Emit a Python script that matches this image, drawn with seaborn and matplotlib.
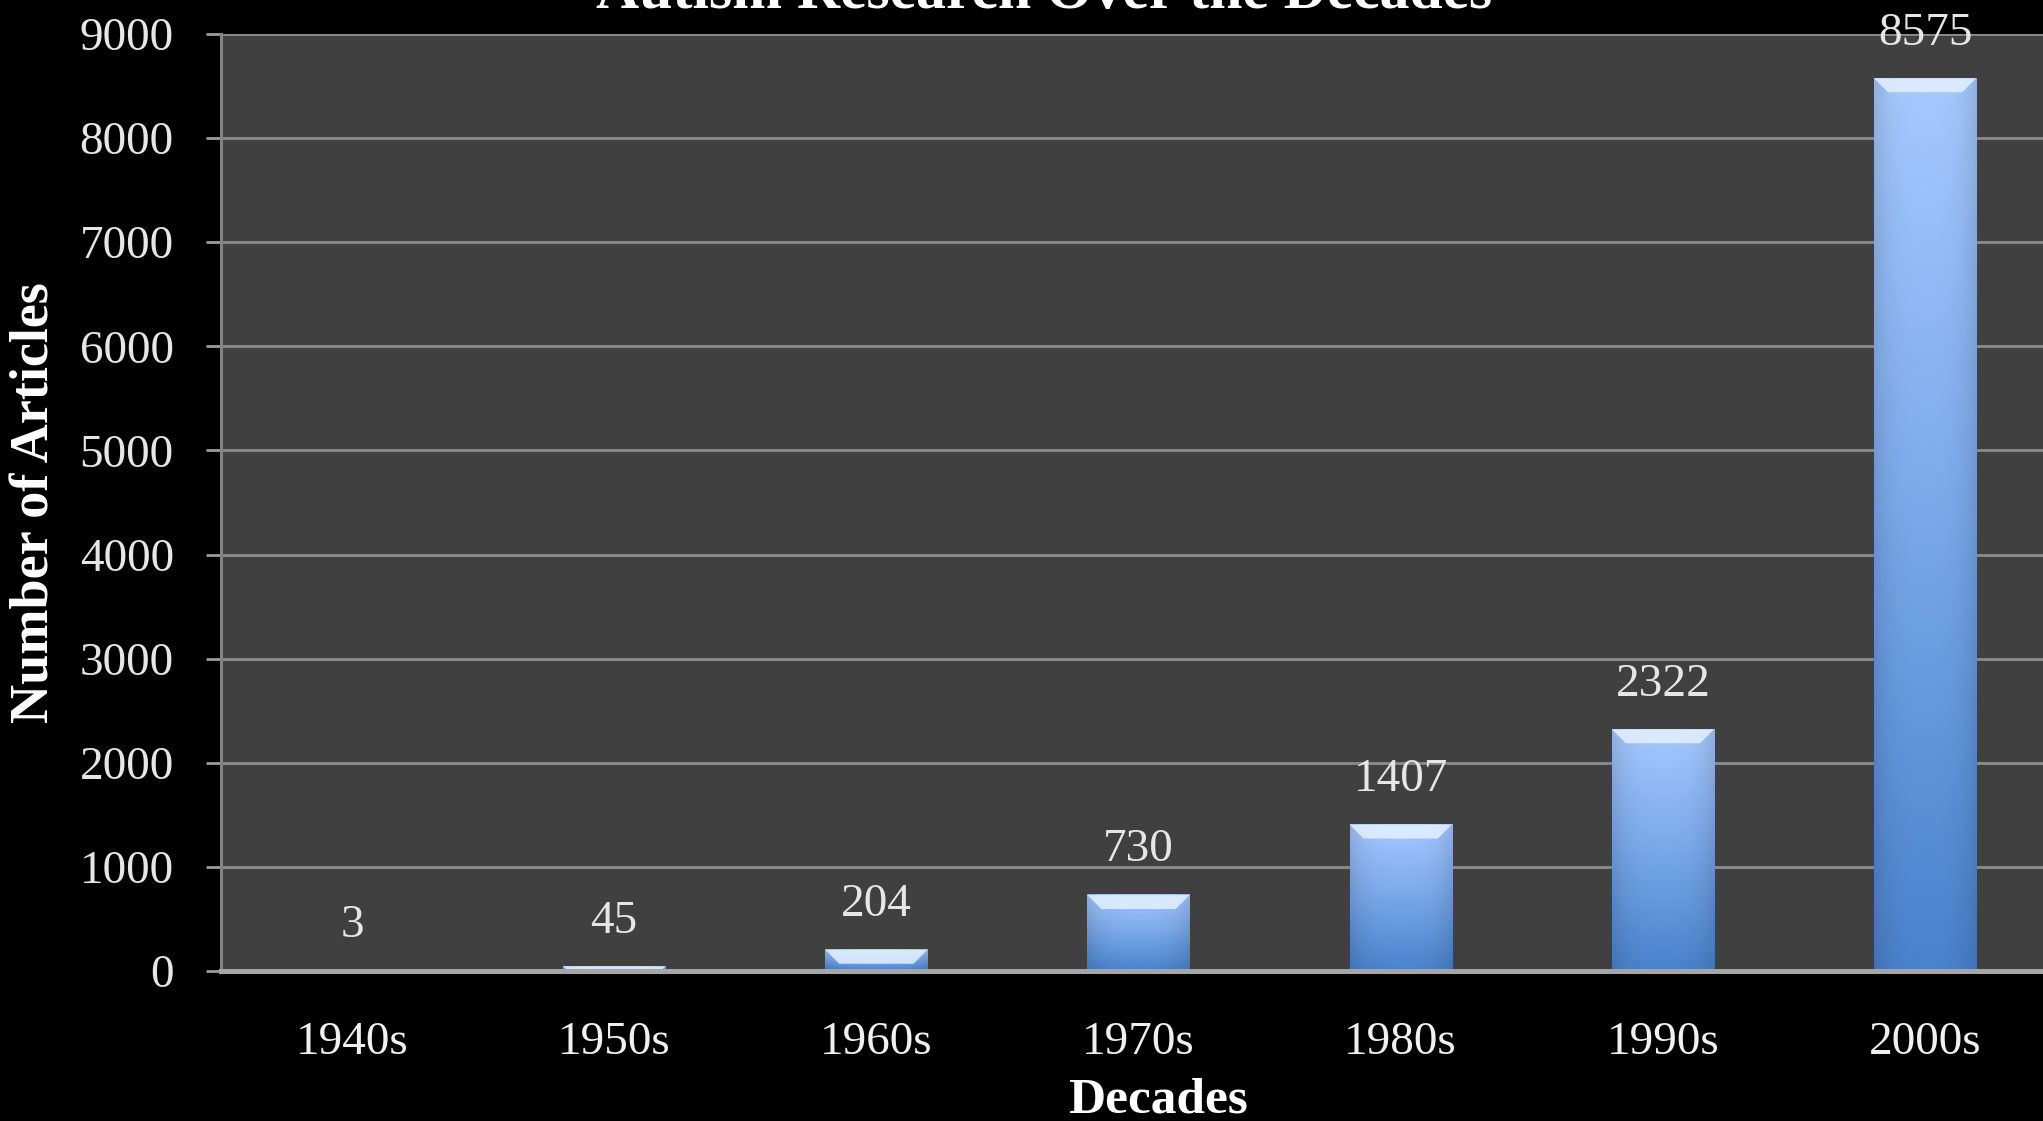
#!/usr/bin/env python3

import numpy as np
import pandas as pd
import seaborn as sns
import matplotlib.pyplot as plt
from matplotlib.colors import LinearSegmentedColormap
from matplotlib.patches import Polygon

DECADES = ['1940s', '1950s', '1960s', '1970s', '1980s', '1990s', '2000s']
ARTICLES = [3, 45, 204, 730, 1407, 2322, 8575]
Y_TICKS = [0, 1000, 2000, 3000, 4000, 5000, 6000, 7000, 8000, 9000]

TITLE = 'Autism Research Over the Decades'
XLABEL = 'Decades'
YLABEL = 'Number of Articles'

SET_DPI = 100
FIGSIZE = (20.43, 11.21)
SERIF = ['Liberation Serif', 'DejaVu Serif']

sns.set_theme(style='dark')
plt.rcParams['font.family'] = SERIF
plt.rcParams['text.color'] = 'white'
plt.rcParams['axes.labelcolor'] = 'white'
plt.rcParams['xtick.color'] = '#9a9a9a'
plt.rcParams['ytick.color'] = '#9a9a9a'

df = pd.DataFrame({'decade': DECADES, 'articles': ARTICLES})

fig = plt.figure(figsize=FIGSIZE, dpi=SET_DPI, facecolor='black')
W, H = 2043, 1121
ax = fig.add_axes([221 / W, (H - 971) / H, (W - 221) / W, (971 - 34) / H])
ax.set_facecolor('#404040')

sns.barplot(data=df, x='decade', y='articles', color='#7aa7e6', width=0.39,
            ax=ax, zorder=3)
ax.set_xlim(-0.5, 6.45)
ax.set_ylim(0, 9000)
ax.set_yticks(Y_TICKS)

# gradient fill + bevelled top on each bar
blue = LinearSegmentedColormap.from_list('b', ['#4a82cc', '#78a8ea', '#a6c9ff'])
red = LinearSegmentedColormap.from_list('r', ['#7a2e2e', '#a04444', '#c06060'])
px_y = 9000 / 937.0
px_x = 6.95 / 1822.0
vert = np.linspace(0, 1, 128)[:, None]
horiz = 1 - 0.12 * np.abs(np.linspace(-1, 1, 64))[None, :] ** 3
for i, bar in enumerate(ax.patches):
    x0, w, h = bar.get_x(), bar.get_width(), bar.get_height()
    bar.set_alpha(0)
    cmap = red if i == 0 else blue
    img = cmap(vert * np.ones((1, 64)))
    img[..., :3] *= horiz[..., None]
    ax.imshow(img, extent=[x0, x0 + w, 0, h], origin='lower', aspect='auto',
              zorder=3, interpolation='bilinear')
    bh = min(14 * px_y, h)
    bw = min(14 * px_x, w / 2)
    if i > 0 and h > 0:
        ax.add_patch(Polygon([[x0, h], [x0 + w, h], [x0 + w - bw * bh / (14 * px_y), h - bh],
                              [x0 + bw * bh / (14 * px_y), h - bh]],
                             closed=True, facecolor='#e4f0ff', edgecolor='none',
                             alpha=0.85, zorder=4))
ax.set_xlim(-0.5, 6.45)
ax.set_ylim(0, 9000)

ax.bar_label(ax.containers[0], labels=[str(v) for v in ARTICLES], padding=17,
             fontsize=34, color='#e6e6e6', family=SERIF)

ax.grid(axis='y', color='#8c8c8c', linewidth=2, zorder=0)
ax.grid(axis='x', visible=False)
ax.set_axisbelow(True)
for s in ['top', 'right']:
    ax.spines[s].set_visible(False)
ax.spines['bottom'].set_color('#a6a6a6')
ax.spines['bottom'].set_linewidth(3.6)
ax.spines['bottom'].set_zorder(5)
ax.spines['left'].set_color('#858585')
ax.spines['left'].set_linewidth(2.2)

ax.tick_params(axis='y', which='major', left=True, length=11, width=2,
               pad=23, labelsize=34, labelcolor='#e6e6e6')
ax.tick_params(axis='x', bottom=False, pad=30, labelsize=34, labelcolor='#f0f0f0')

ax.set_xlabel(XLABEL, fontsize=37, fontweight='bold', color='white')
ax.set_ylabel(YLABEL, fontsize=39, fontweight='bold', color='white')
ax.xaxis.set_label_coords(0.514, -0.114)
ax.yaxis.set_label_coords(-0.088, 0.5)

fig.text(1044 / W, 1 - 8 / H, TITLE, ha='center', va='baseline', fontsize=43,
         fontweight='bold', color='white')

fig.savefig('out.png', dpi=SET_DPI, facecolor='black')
